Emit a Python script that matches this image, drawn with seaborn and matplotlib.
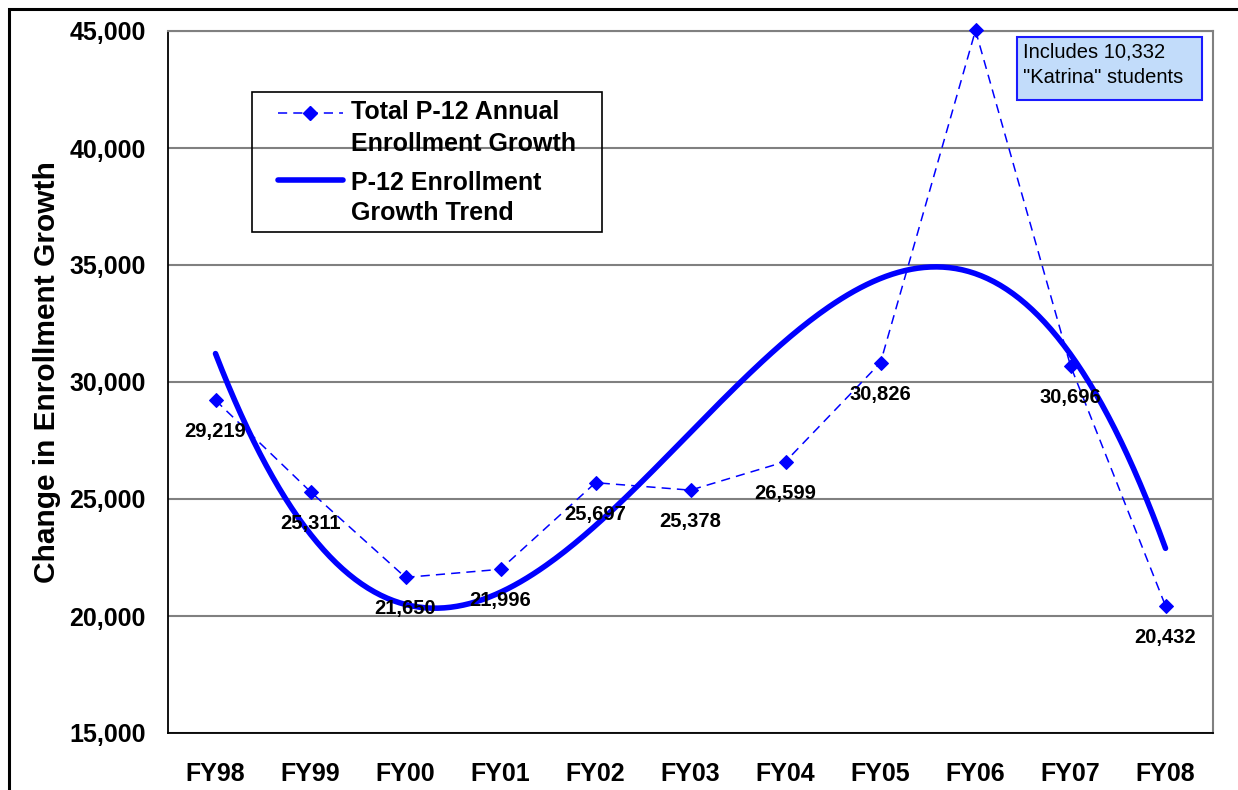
import numpy as np
import pandas as pd
import matplotlib
matplotlib.use("Agg")
import matplotlib.pyplot as plt
import seaborn as sns
from matplotlib.patches import Rectangle
from matplotlib.lines import Line2D

# Fiscal years and annual P-12 enrollment growth
years = ["FY98", "FY99", "FY00", "FY01", "FY02", "FY03", "FY04", "FY05", "FY06", "FY07", "FY08"]
growth = [29219, 25311, 21650, 21996, 25697, 25378, 26599, 30826, 45024, 30696, 20432]
y_ticks = [15000, 20000, 25000, 30000, 35000, 40000, 45000]
series_names = [["Total P-12 Annual", "Enrollment Growth"], ["P-12 Enrollment", "Growth Trend"]]
note_lines = ["Includes 10,332", "\"Katrina\" students"]

BLUE = "#0000ff"
W, H = 1238, 790

sns.set_style("white")
plt.rcParams["font.family"] = ["Liberation Sans", "DejaVu Sans"]
plt.rcParams.update({"text.color": "black", "axes.labelcolor": "black",
                     "xtick.color": "black", "ytick.color": "black"})

fig = plt.figure(figsize=(W / 100, H / 100), dpi=100)
fig.patch.set_facecolor("white")
ax = fig.add_axes([168 / W, 1 - 733 / H, (1213 - 168) / W, (733 - 31) / H])

df = pd.DataFrame({"pos": np.arange(1, len(years) + 1), "growth": growth, "year": years})

# annual growth: thin dashed line with diamond markers
sns.lineplot(data=df, x="pos", y="growth", ax=ax, color=BLUE, linewidth=1.1,
             linestyle="--", marker="D", markersize=7, markeredgecolor=BLUE,
             legend=False, zorder=3, clip_on=False)
ax.lines[-1].set_dashes((6, 4))

# third-order polynomial trend across the eleven years
xs = np.linspace(1, len(years), 300)
coef = np.polyfit(df["pos"], df["growth"], 3)
trend = pd.DataFrame({"pos": xs, "trend": np.polyval(coef, xs)})
sns.lineplot(data=trend, x="pos", y="trend", ax=ax, color=BLUE, linewidth=4,
             legend=False, zorder=4)

ax.set_xlim(0.5, len(years) + 0.5)
ax.set_ylim(15000, 45000)
ax.set_xlabel("")
ax.set_ylabel("")

# category boundaries carry the tick marks, labels sit at category centres
ax.set_xticks(np.arange(0.5, len(years) + 1, 1))
ax.set_xticklabels([])
ax.set_xticks(df["pos"], labels=years, minor=True, fontsize=18, fontweight="bold")
ax.tick_params(axis="x", which="major", direction="out", length=8, width=1.2, color="black")
ax.tick_params(axis="x", which="minor", length=0, pad=21)

ax.set_yticks(y_ticks, labels=[f"{v:,}" for v in y_ticks], fontsize=18, fontweight="bold")
ax.tick_params(axis="y", direction="out", length=6, width=1.2, color="black", pad=10)

ax.grid(axis="y", color="#808080", linewidth=1.5)
ax.set_axisbelow(True)
for side in ["left", "bottom"]:
    ax.spines[side].set_color("black")
    ax.spines[side].set_linewidth(1.3)
for side in ["top", "right"]:
    ax.spines[side].set_color("#808080")
    ax.spines[side].set_linewidth(1.5)

# value labels under each point
for x, v in zip(df["pos"], df["growth"]):
    ax.annotate(f"{v:,}", (x, v), xytext=(0, -26.6), textcoords="offset points",
                ha="center", va="baseline", fontsize=14.5, fontweight="bold",
                color="black", zorder=5)

fig.text(47 / W, 1 - 372 / H, "Change in Enrollment Growth", rotation=90,
         ha="center", va="center", fontsize=21.5, fontweight="bold")

# legend: swatch beside the first line of each two-line entry
fx = fig.transFigure
legend_rows = [(113, [119, 151]), (180, [190, 220])]
for i, (sy, baselines) in enumerate(legend_rows):
    if i == 0:
        fig.add_artist(Line2D([278 / W, 343 / W], [1 - sy / H] * 2, transform=fx,
                              color=BLUE, lw=1.1, dashes=(6, 4)))
        fig.add_artist(Line2D([310.5 / W], [1 - sy / H], transform=fx, color=BLUE,
                              marker="D", ms=7, lw=0))
    else:
        fig.add_artist(Line2D([278 / W, 343 / W], [1 - sy / H] * 2, transform=fx,
                              color=BLUE, lw=4, solid_capstyle="round"))
    for line, b in zip(series_names[i], baselines):
        fig.text(351 / W, 1 - b / H, line, fontsize=18, fontweight="bold",
                 va="baseline", ha="left")
fig.add_artist(Rectangle((252 / W, 1 - 232 / H), 350 / W, 140 / H, transform=fx,
                         fill=False, edgecolor="black", lw=1.2, zorder=10))

# note box beside the FY06 peak
fig.add_artist(Rectangle((1017 / W, 1 - 100 / H), 185 / W, 63 / H, transform=fx,
                         facecolor="#c2dcfa", edgecolor="#1a1aff", lw=1.5, zorder=10))
for line, b in zip(note_lines, [57, 83]):
    fig.text(1023 / W, 1 - b / H, line, fontsize=14.5, va="baseline", ha="left",
             zorder=11)

# outer chart border
fig.add_artist(Rectangle((9 / W, -0.05), 1.2, 1.05 - 9 / H, transform=fx,
                         fill=False, edgecolor="black", lw=2.2))

fig.savefig("out.png", dpi=100)
